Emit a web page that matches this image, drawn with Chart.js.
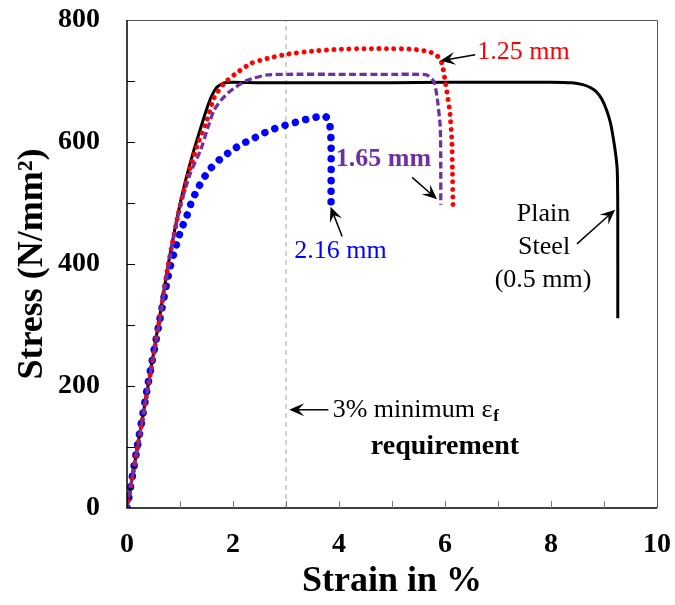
<!DOCTYPE html>
<html><head><meta charset="utf-8">
<script src="https://cdn.jsdelivr.net/npm/chart.js@4/dist/chart.umd.min.js"></script>
<style>html,body{margin:0;padding:0;background:#fff;}#wrap{width:675px;height:605px;}</style>
</head><body><div id="wrap"><canvas id="c" width="675" height="605"></canvas></div>
<script>
// ---- data ----
const strainPlain = [0, 0.2, 0.4, 0.6, 0.78, 0.95, 1.1, 1.25, 1.38, 1.48, 1.58, 1.7, 1.83, 2.0, 2.5, 3, 4, 5, 6, 7, 8, 8.4, 8.6, 8.75, 8.86, 8.96, 9.05, 9.12, 9.17, 9.22, 9.25, 9.26, 9.26];
const stressPlain = [0, 102, 202, 305, 401, 478, 535, 583, 620, 648, 672, 690, 697, 698, 697, 697, 697, 697, 698, 698, 698, 697, 694, 689, 682, 670, 652, 632, 609, 580, 554, 480, 311];

const strainRed = [0, 0.2, 0.4, 0.6, 0.78, 1.0, 1.2, 1.35, 1.49, 1.64, 1.83, 2.05, 2.34, 2.65, 3.02, 3.5, 4.0, 4.5, 5.0, 5.4, 5.65, 5.79, 5.9, 5.95, 6.01, 6.09, 6.13, 6.14, 6.15];
const stressRed = [0, 100, 200, 302, 400, 495, 560, 600, 631, 672, 696, 712, 729, 737, 744, 749, 752, 753, 753, 752, 749, 745, 737, 726, 696, 650, 600, 550, 497];

const strainPurple = [0, 0.2, 0.4, 0.6, 0.78, 1.0, 1.2, 1.39, 1.52, 1.64, 1.77, 1.9, 2.05, 2.21, 2.4, 2.65, 3.03, 4, 5, 5.5, 5.66, 5.79, 5.85, 5.91, 5.92, 5.92];
const stressPurple = [0, 100, 200, 300, 398, 493, 550, 587, 622, 652, 668, 680, 690, 699, 705, 710, 711, 711, 711, 711, 710, 699, 674, 625, 560, 497];

const strainBlue = [0, 0.2, 0.4, 0.6, 0.8, 0.94, 1.02, 1.13, 1.21, 1.32, 1.44, 1.59, 1.77, 1.96, 2.15, 2.35, 2.54, 2.73, 2.93, 3.13, 3.33, 3.53, 3.73, 3.82, 3.85, 3.85];
const stressBlue = [0, 103, 205, 300, 390, 434, 456, 479, 500, 521, 540, 558, 573, 585, 596, 604, 613, 620, 626, 631, 636, 640, 643, 632, 600, 502];

const reqStrain = [3, 3];
const reqStress = [0, 800];

const xTickLabels = [0, 2, 4, 6, 8, 10];
const yTickLabels = [0, 200, 400, 600, 800];

const labels = {
  red: "1.25 mm", purple: "1.65 mm", blue: "2.16 mm",
  plain: ["Plain", "Steel", "(0.5 mm)"],
  req1: "3% minimum ε", req1sub: "f", req2: "requirement"
};

function pts(xs, ys){ return xs.map((x,i)=>({x:x, y:ys[i]})); }

const SERIF = '"Liberation Serif","Times New Roman",serif';

const annot = {
  id: 'annot',
  afterDraw(chart){
    const ctx = chart.ctx, xs = chart.scales.x, ys = chart.scales.y;
    const X = v => xs.getPixelForValue(v), Y = v => ys.getPixelForValue(v);
    const ca = chart.chartArea;
    ctx.save();
    // frame
    ctx.lineCap = 'butt';
    ctx.strokeStyle = '#555'; ctx.lineWidth = 1;
    ctx.beginPath(); ctx.moveTo(ca.left, ca.top + 0.5); ctx.lineTo(ca.right + 0.5, ca.top + 0.5); ctx.lineTo(ca.right + 0.5, ca.bottom); ctx.stroke();
    ctx.strokeStyle = '#000'; ctx.lineWidth = 1.5;
    ctx.beginPath(); ctx.moveTo(ca.left, ca.top); ctx.lineTo(ca.left, ca.bottom); ctx.lineTo(ca.right, ca.bottom); ctx.stroke();
    // inside ticks
    ctx.lineWidth = 1; ctx.strokeStyle = '#000';
    ys.ticks.forEach(t => { if (t.value > 0 && t.value < 800) { const y = Math.round(Y(t.value)) + 0.5; ctx.beginPath(); ctx.moveTo(ca.left, y); ctx.lineTo(ca.left + 8, y); ctx.stroke(); } });
    ctx.strokeStyle = '#777';
    xs.ticks.forEach(t => { if (t.value > 0 && t.value < 10) { const x = Math.round(X(t.value)) + 0.5; ctx.beginPath(); ctx.moveTo(x, ca.bottom); ctx.lineTo(x, ca.bottom - 7); ctx.stroke(); } });

    function arrow(x1, y1, x2, y2){
      const px1 = X(x1), py1 = Y(y1), px2 = X(x2), py2 = Y(y2);
      const a = Math.atan2(py2 - py1, px2 - px1);
      const L = 15, W = 6.5;
      ctx.strokeStyle = '#000'; ctx.fillStyle = '#000'; ctx.lineWidth = 1.5;
      ctx.beginPath(); ctx.moveTo(px1, py1); ctx.lineTo(px2 - Math.cos(a) * 8, py2 - Math.sin(a) * 8); ctx.stroke();
      const bx = px2 - Math.cos(a) * L, by = py2 - Math.sin(a) * L;
      const nx = px2 - Math.cos(a) * (L * 0.6), ny = py2 - Math.sin(a) * (L * 0.6);
      ctx.beginPath();
      ctx.moveTo(px2, py2);
      ctx.lineTo(bx + Math.sin(a) * W, by - Math.cos(a) * W);
      ctx.lineTo(nx, ny);
      ctx.lineTo(bx - Math.sin(a) * W, by + Math.cos(a) * W);
      ctx.closePath(); ctx.fill();
    }
    function text(str, x, y, color, font, align){
      ctx.fillStyle = color; ctx.font = font; ctx.textAlign = align || 'center'; ctx.textBaseline = 'middle';
      ctx.fillText(str, X(x), Y(y));
    }
    const reg = '26px ' + SERIF, bold = 'bold 26px ' + SERIF;
    text(labels.red, 7.48, 747, '#FF0000', reg);
    arrow(6.57, 743, 5.91, 733);
    text(labels.purple, 4.84, 571, '#7030A0', bold);
    arrow(5.38, 542, 5.85, 506);
    text(labels.blue, 4.03, 421, '#0000FF', reg);
    arrow(4.06, 445, 3.84, 494);
    text(labels.plain[0], 7.86, 482, '#000', reg);
    text(labels.plain[1], 7.87, 428, '#000', reg);
    text(labels.plain[2], 7.85, 374, '#000', reg);
    arrow(8.49, 433, 9.21, 489);
    // requirement note
    arrow(3.8, 161, 3.06, 161);
    ctx.fillStyle = '#000'; ctx.font = reg; ctx.textAlign = 'left'; ctx.textBaseline = 'middle';
    const tx = X(3.88), ty = Y(161);
    ctx.fillText(labels.req1, tx, ty);
    const w = ctx.measureText(labels.req1).width;
    ctx.font = 'bold 17px ' + SERIF;
    ctx.fillText(labels.req1sub, tx + w + 1, ty + 7);
    text(labels.req2, 6.0, 101, '#000', 'bold 28px ' + SERIF);
    ctx.restore();
  }
};

new Chart(document.getElementById('c'), {
  type: 'scatter',
  data: {
    datasets: [
      { label: '1.65 mm', data: pts(strainPurple, stressPurple), showLine: true, borderColor: '#7030A0', borderWidth: 3.3, borderDash: [7, 3.5], pointRadius: 0, tension: 0.2, fill: false },
      { label: '1.25 mm', data: pts(strainRed, stressRed), showLine: true, borderColor: '#FF0000', borderWidth: 5, borderDash: [0.01, 7.5], borderCapStyle: 'round', pointRadius: 0, tension: 0.2, fill: false },
      { label: 'Plain', data: pts(strainPlain, stressPlain), showLine: true, borderColor: '#000000', borderWidth: 3, pointRadius: 0, tension: 0.2, fill: false },
      { label: '2.16 mm', data: pts(strainBlue, stressBlue), showLine: true, borderColor: '#0000FF', borderWidth: 7.5, borderDash: [0.01, 10.7], borderCapStyle: 'round', pointRadius: 0, tension: 0.2, fill: false },
      { label: '3%', data: pts(reqStrain, reqStress), showLine: true, borderColor: '#A6A6A6', borderWidth: 1, borderDash: [5, 4], pointRadius: 0, fill: false }
    ]
  },
  options: {
    responsive: false, animation: false, devicePixelRatio: 1,
    layout: { padding: { top: 20, right: 18, left: 0, bottom: 0 } },
    plugins: { legend: { display: false }, tooltip: { enabled: false } },
    scales: {
      x: {
        type: 'linear', min: 0, max: 10,
        grid: { display: false, drawTicks: false }, border: { display: false },
        ticks: { stepSize: 1, autoSkip: false, maxRotation: 0, padding: 20, color: '#000',
          font: { family: SERIF, size: 28, weight: 'bold' },
          callback: v => xTickLabels.includes(v) ? String(v) : '' },
        title: { display: true, text: 'Strain in %', color: '#000', padding: { top: 0, bottom: 5 },
          font: { family: SERIF, size: 36, weight: 'bold', lineHeight: 1 } },
        afterFit: s => { s.height = 97; s.paddingLeft = 0; s.paddingRight = 0; }
      },
      y: {
        type: 'linear', min: 0, max: 800,
        grid: { display: false, drawTicks: false }, border: { display: false },
        ticks: { stepSize: 100, autoSkip: false, padding: 27, color: '#000',
          font: { family: SERIF, size: 28, weight: 'bold' },
          callback: v => yTickLabels.includes(v) ? String(v) : '' },
        title: { display: true, text: 'Stress (N/mm²)', color: '#000', padding: { top: 15, bottom: 0 },
          font: { family: SERIF, size: 36, weight: 'bold', lineHeight: 1 } },
        afterFit: s => { s.width = 127; s.paddingTop = 0; s.paddingBottom = 0; }
      }
    }
  },
  plugins: [annot]
});
</script>
</body></html>
